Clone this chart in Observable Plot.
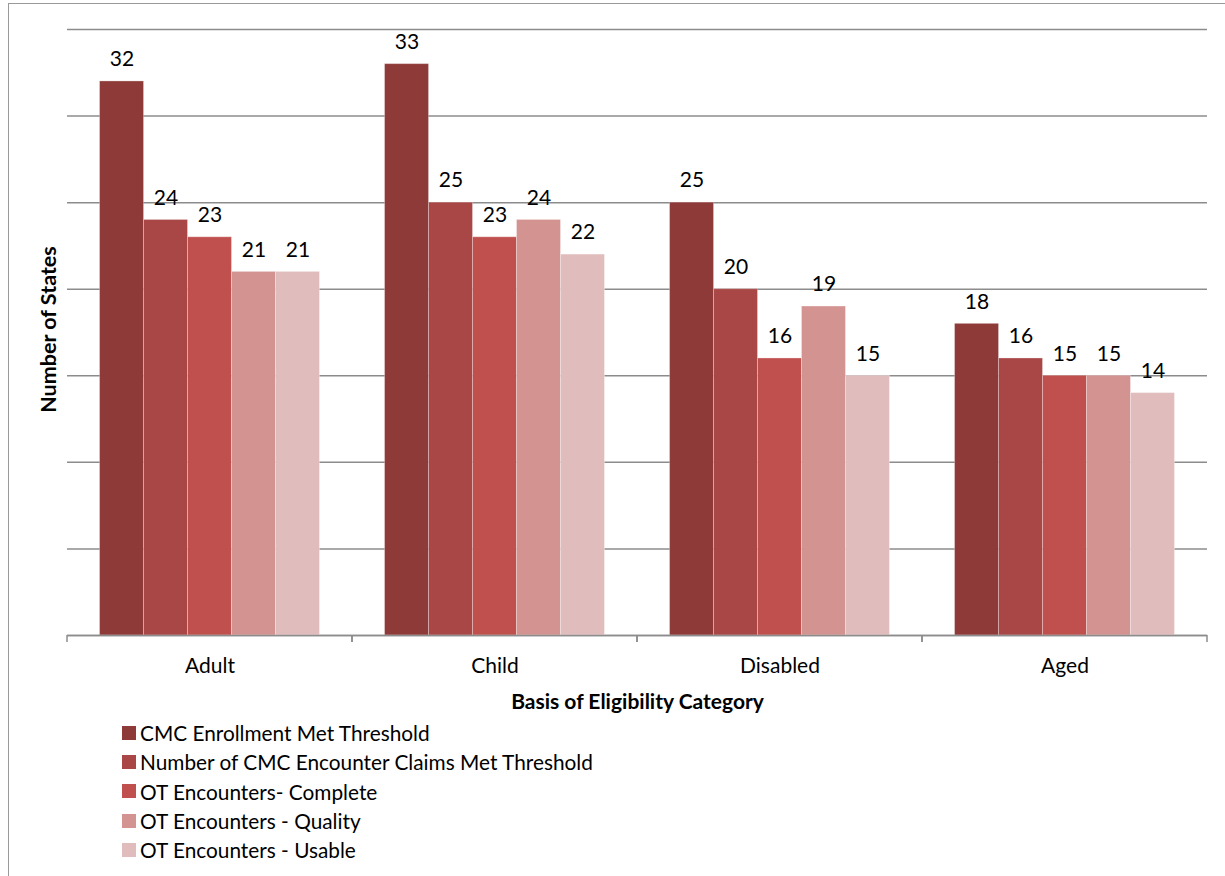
<!DOCTYPE html>
<html>
<head>
<meta charset="utf-8">
<script src="https://cdn.jsdelivr.net/npm/d3@7"></script>
<script src="https://cdn.jsdelivr.net/npm/@observablehq/plot@0.6"></script>
<style>
  html, body { margin: 0; padding: 0; background: #fff; }
  #wrap { position: relative; width: 1225px; height: 876px; overflow: hidden; font-family: Lato, "Open Sans", sans-serif; }
  #border { position: absolute; left: 8px; top: 3px; right: -2px; bottom: -2px; border-left: 1.5px solid #9a9a9a; border-top: 1.5px solid #9a9a9a; }
  #chart { position: absolute; left: 0; top: 0; }
  #legend { position: absolute; left: 122px; top: 718px; font-size: 20.8px; color: #000; }
  #legend .row { display: flex; align-items: center; height: 29.3px; }
  #legend .sw { width: 14px; height: 14px; margin-right: 4px; flex: none; }
</style>
</head>
<body>
<div id="wrap">
  <div id="border"></div>
  <div id="chart"></div>
  <div id="legend"></div>
</div>
<script>
// Basis of eligibility categories along the x axis
const categories = ["Adult", "Child", "Disabled", "Aged"];

// Measures shown for each category
const series = [
  "CMC Enrollment Met Threshold",
  "Number of CMC Encounter Claims Met Threshold",
  "OT Encounters- Complete",
  "OT Encounters - Quality",
  "OT Encounters - Usable"
];

// Number of states per measure, in category order
const enrollmentMet = [32, 33, 25, 18];
const claimsMet     = [24, 25, 20, 16];
const otComplete    = [23, 23, 16, 15];
const otQuality     = [21, 24, 19, 15];
const otUsable      = [21, 22, 15, 14];

const seriesValues = [enrollmentMet, claimsMet, otComplete, otQuality, otUsable];

// Gridline values on the y axis
const yTicks = [0, 5, 10, 15, 20, 25, 30, 35];

const colors = ["#8d3a39", "#a84745", "#c0504d", "#d39391", "#e1bcbc"];

const rows = [];
categories.forEach((c, ci) => {
  series.forEach((s, si) => {
    rows.push({category: c, series: s, value: seriesValues[si][ci]});
  });
});

// Small downward ticks at both edges of a category band (repeated in each facet)
function boundaryTicks(index, scales) {
  const [x0, x1] = scales.x.range();
  const y0 = scales.y(0);
  const g = d3.create("svg:g")
    .attr("stroke", "#8c8c8c")
    .attr("stroke-width", 1.5);
  for (const x of [x0, x1]) {
    g.append("line")
      .attr("x1", x).attr("x2", x)
      .attr("y1", y0).attr("y2", y0 + 7);
  }
  return g.node();
}

const chart = Plot.plot({
  width: 1225,
  height: 720,
  marginLeft: 66,
  marginRight: 17,
  marginTop: 29,
  marginBottom: 85,
  style: {fontFamily: "Lato, 'Open Sans', sans-serif", fontSize: "21px", color: "#000", background: "transparent"},
  fx: {domain: categories, padding: 0, label: null},
  x: {domain: series, paddingInner: 0, paddingOuter: 0.74, round: false, axis: null},
  y: {domain: [0, 35], nice: false, axis: null},
  color: {domain: series, range: colors},
  marks: [
    Plot.ruleY(yTicks, {stroke: "#8c8c8c", strokeWidth: 1.5}),
    Plot.barY(rows, {
      fx: "category", x: "series", y: "value", fill: "series",
      stroke: "#ffffff", strokeOpacity: 0.3, strokeWidth: 1
    }),
    Plot.ruleY([0], {stroke: "#8c8c8c", strokeWidth: 1.5}),
    boundaryTicks,
    Plot.text(rows, {
      fx: "category", x: "series", y: "value",
      text: d => String(d.value), dy: -22, fill: "#000", fontSize: 21
    }),
    Plot.axisFx({anchor: "bottom", tickSize: 0, tickPadding: 23, fontSize: 21, label: null}),
    Plot.text(["Basis of Eligibility Category"], {
      facet: "super", frameAnchor: "bottom", lineAnchor: "middle", dy: 67,
      fontWeight: "bold", fontSize: 21, fill: "#000"
    }),
    Plot.text(["Number of States"], {
      facet: "super", frameAnchor: "left", textAnchor: "middle", lineAnchor: "middle",
      dx: -18, dy: -3, rotate: -90,
      fontWeight: "bold", fontSize: 21.5, fill: "#000"
    })
  ]
});

document.getElementById("chart").appendChild(chart);

// Legend below the chart
const legend = d3.select("#legend");
series.forEach((s, i) => {
  const row = legend.append("div").attr("class", "row");
  row.append("div").attr("class", "sw").style("background", colors[i]);
  row.append("span").text(s);
});
</script>
</body>
</html>
